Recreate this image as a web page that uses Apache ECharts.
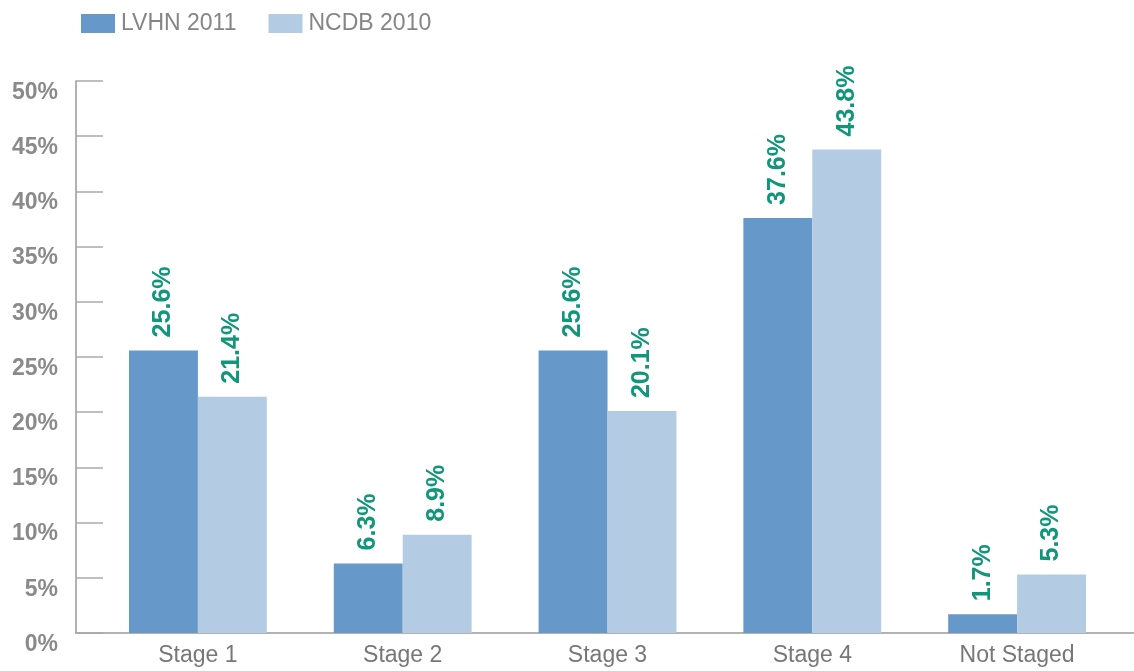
<!DOCTYPE html>
<html><head><meta charset="utf-8">
<script src="https://cdn.jsdelivr.net/npm/echarts@6/dist/echarts.min.js"></script>
<style>html,body{margin:0;padding:0;background:#fff}#c{width:1134px;height:671px}</style>
</head><body><div id="c"></div>
<script>
const categories = ['Stage 1', 'Stage 2', 'Stage 3', 'Stage 4', 'Not Staged'];
const lvhn2011 = [25.6, 6.3, 25.6, 37.6, 1.7];
const ncdb2010 = [21.4, 8.9, 20.1, 43.8, 5.3];
const seriesNames = ['LVHN 2011', 'NCDB 2010'];
const yTicks = [0, 5, 10, 15, 20, 25, 30, 35, 40, 45, 50];

const font = '"Liberation Sans", Arial, Helvetica, sans-serif';
const chart = echarts.init(document.getElementById('c'), null, {renderer: 'canvas'});
const labelCfg = {
  show: true, position: 'top', rotate: 90, align: 'left', verticalAlign: 'middle',
  distance: 13, color: '#12967a', fontWeight: 'bold', fontSize: 25, fontFamily: font,
  formatter: p => p.value.toFixed(1) + '%'
};
chart.setOption({
  animation: false,
  legend: {
    left: 76, top: 7, itemWidth: 34, itemHeight: 19, itemGap: 32,
    icon: 'rect',
    textStyle: {fontSize: 23, color: '#858585', fontFamily: font, padding: [0, 0, 0, 1]},
    data: seriesNames
  },
  grid: [
    {left: 76, right: 0, top: 81, bottom: 38},
    {left: 95.5, right: 14.5, top: 81, bottom: 38}
  ],
  xAxis: [
    {gridIndex: 0, type: 'category', data: [''], axisLine: {lineStyle: {color: '#999', width: 1.5}},
     axisTick: {show: false}, axisLabel: {show: false}},
    {gridIndex: 1, type: 'category', data: categories,
     axisLine: {show: false}, axisTick: {show: false},
     axisLabel: {margin: 11, fontSize: 23, color: '#777', fontFamily: font}}
  ],
  yAxis: [
    {gridIndex: 0, type: 'value', min: 0, max: 50, interval: 5,
     axisLine: {show: true, lineStyle: {color: '#999', width: 1.5}},
     axisTick: {show: true, inside: true, length: 27, lineStyle: {color: '#aaa', width: 1.5}},
     splitLine: {show: false},
     axisLabel: {margin: 18, fontSize: 23, fontWeight: 'bold', color: '#8a8a8a', fontFamily: font,
       verticalAlign: 'top', formatter: v => yTicks.includes(v) ? v + '%' : ''}},
    {gridIndex: 1, type: 'value', min: 0, max: 50, interval: 5, show: false, splitLine: {show: false}}
  ],
  series: [
    {name: seriesNames[0], type: 'bar', xAxisIndex: 1, yAxisIndex: 1, data: lvhn2011,
     itemStyle: {color: '#6699c9'}, barGap: '0%', barCategoryGap: '32.7%', label: labelCfg},
    {name: seriesNames[1], type: 'bar', xAxisIndex: 1, yAxisIndex: 1, data: ncdb2010,
     itemStyle: {color: '#b3cbe3'}, barGap: '0%', barCategoryGap: '32.7%', label: labelCfg}
  ]
});
</script></body></html>
